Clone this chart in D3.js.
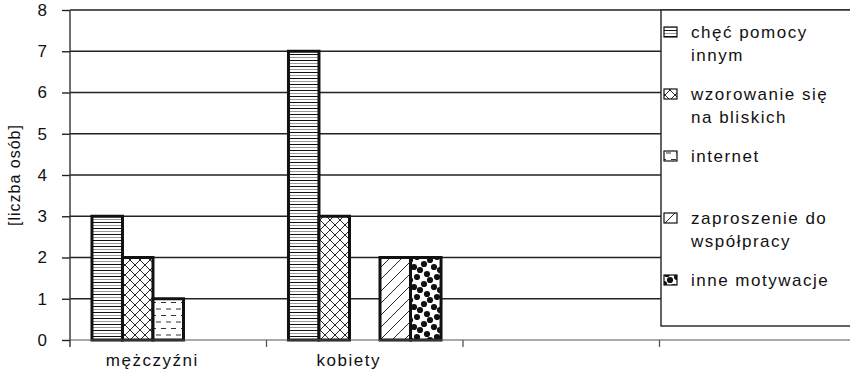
<!DOCTYPE html>
<html>
<head>
<meta charset="utf-8">
<title>Motywacje</title>
<script src="https://d3js.org/d3.v7.min.js"></script>
<style>
  body { margin: 0; padding: 0; background: #fff; }
  svg text { font-family: "Liberation Sans", Arial, sans-serif; fill: #111; }
</style>
</head>
<body>
<div id="chart"></div>
<script>
// categories (the last two bands are empty in the original chart)
var categories = ["mężczyźni", "kobiety", "", ""];
var seriesNames = ["chęć pomocy\ninnym", "wzorowanie się\nna bliskich", "internet", "zaproszenie do\nwspółpracy", "inne motywacje"];
var chec = [3, 7, 0, 0];
var wzorowanie = [2, 3, 0, 0];
var internet = [1, 0, 0, 0];
var zaproszenie = [0, 2, 0, 0];
var inne = [0, 2, 0, 0];
var yTicks = [0, 1, 2, 3, 4, 5, 6, 7, 8];
var yTitle = "[liczba osób]";

var series = [chec, wzorowanie, internet, zaproszenie, inne];
var patternIds = ["p-hlines", "p-cross", "p-dash", "p-diag", "p-dots"];

var width = 850, height = 373;
var margin = { top: 10, left: 70, bottom: 33 };

var svg = d3.select("#chart").append("svg")
    .attr("width", width)
    .attr("height", height);

// fill patterns
var defs = svg.append("defs");

var p1 = defs.append("pattern").attr("id", "p-hlines")
    .attr("patternUnits", "userSpaceOnUse").attr("width", 6).attr("height", 6);
p1.append("rect").attr("width", 6).attr("height", 6).attr("fill", "#fff");
p1.append("line").attr("x1", 0).attr("x2", 6).attr("y1", 0.5).attr("y2", 0.5).attr("stroke", "#111").attr("stroke-width", 1);
p1.append("line").attr("x1", 0).attr("x2", 6).attr("y1", 3.5).attr("y2", 3.5).attr("stroke", "#999").attr("stroke-width", 1);

var p2 = defs.append("pattern").attr("id", "p-cross")
    .attr("patternUnits", "userSpaceOnUse").attr("width", 10).attr("height", 10);
p2.append("rect").attr("width", 10).attr("height", 10).attr("fill", "#fff");
p2.append("path").attr("d", "M0,0L10,10M10,0L0,10").attr("stroke", "#111").attr("stroke-width", 0.9);

var p3 = defs.append("pattern").attr("id", "p-dash")
    .attr("patternUnits", "userSpaceOnUse").attr("width", 10).attr("height", 13);
p3.append("rect").attr("width", 10).attr("height", 13).attr("fill", "#fff");
p3.append("path").attr("d", "M1,3.5H6M6,10H10M0,10H1").attr("stroke", "#333").attr("stroke-width", 1);

var p4 = defs.append("pattern").attr("id", "p-diag")
    .attr("patternUnits", "userSpaceOnUse").attr("width", 12).attr("height", 12);
p4.append("rect").attr("width", 12).attr("height", 12).attr("fill", "#fff");
p4.append("path").attr("d", "M0,12L12,0M-3,3L3,-3M9,15L15,9").attr("stroke", "#111").attr("stroke-width", 0.9);

var p5 = defs.append("pattern").attr("id", "p-dots")
    .attr("patternUnits", "userSpaceOnUse").attr("width", 20).attr("height", 20);
p5.append("rect").attr("width", 20).attr("height", 20).attr("fill", "#fff");
[[4, 4], [14, 7], [7, 14], [17, 17], [10, 0], [10, 20], [0, 10], [20, 10]].forEach(function(c) {
    p5.append("circle").attr("cx", c[0]).attr("cy", c[1]).attr("r", 3.1).attr("fill", "#111");
});

// scales
var x = d3.scaleBand()
    .domain(d3.range(categories.length))
    .range([margin.left, 856]);

var xs = d3.scaleBand()
    .domain(d3.range(seriesNames.length))
    .range([0, x.bandwidth()])
    .paddingOuter(0.72);

var y = d3.scaleLinear()
    .domain([0, 8])
    .range([height - margin.bottom, margin.top]);

// gridlines
svg.append("g").selectAll("line")
    .data(yTicks.filter(function(d) { return d > 0; }))
    .enter().append("line")
    .attr("x1", margin.left).attr("x2", 856)
    .attr("y1", function(d) { return y(d); })
    .attr("y2", function(d) { return y(d); })
    .attr("stroke", "#222")
    .attr("stroke-width", 1.4);

// y axis
var yAxis = svg.append("g")
    .attr("transform", "translate(" + margin.left + ",0)")
    .call(d3.axisLeft(y).tickValues(yTicks).tickSize(8).tickPadding(15).tickFormat(d3.format("d")));
yAxis.select(".domain").remove();
yAxis.selectAll(".tick line").attr("stroke", "#222").attr("stroke-width", 1.4);
yAxis.selectAll(".tick text")
    .style("font-size", "17px")
    .style("font-family", "'Liberation Sans', Arial, sans-serif")
    .attr("fill", "#111");
svg.append("line")
    .attr("x1", margin.left).attr("x2", margin.left)
    .attr("y1", y(8)).attr("y2", y(0) + 7)
    .attr("stroke", "#333").attr("stroke-width", 1.4);

// y title
svg.append("text")
    .attr("transform", "translate(20," + ((y(0) + y(8)) / 2) + ") rotate(-90)")
    .attr("text-anchor", "middle")
    .style("font-size", "16px")
    .style("letter-spacing", "1px")
    .text(yTitle);

// bars
series.forEach(function(vals, si) {
    svg.append("g").selectAll("rect")
        .data(vals.map(function(v, ci) { return { v: v, c: ci }; }).filter(function(d) { return d.v > 0; }))
        .enter().append("rect")
        .attr("x", function(d) { return x(d.c) + xs(si); })
        .attr("y", function(d) { return y(d.v); })
        .attr("width", xs.bandwidth())
        .attr("height", function(d) { return y(0) - y(d.v); })
        .attr("fill", "url(#" + patternIds[si] + ")")
        .attr("stroke", "#111")
        .attr("stroke-width", 3);
});

// x axis
svg.append("line")
    .attr("x1", margin.left).attr("x2", 856)
    .attr("y1", y(0)).attr("y2", y(0))
    .attr("stroke", "#555").attr("stroke-width", 1.2);
svg.append("g").selectAll("line")
    .data(d3.range(1, categories.length))
    .enter().append("line")
    .attr("x1", function(d) { return x(d); })
    .attr("x2", function(d) { return x(d); })
    .attr("y1", y(0)).attr("y2", y(0) + 7)
    .attr("stroke", "#555").attr("stroke-width", 1.3);

svg.append("g").selectAll("text")
    .data(categories)
    .enter().append("text")
    .attr("x", function(d, i) { return x(i) + x.bandwidth() / 2 - 16; })
    .attr("y", y(0) + 26)
    .attr("text-anchor", "middle")
    .style("font-size", "17px")
    .style("letter-spacing", "1.5px")
    .text(function(d) { return d; });

// legend
var legend = svg.append("g");
legend.append("rect")
    .attr("x", 661).attr("y", y(8))
    .attr("width", 200).attr("height", 316)
    .attr("fill", "#fff")
    .attr("stroke", "#222").attr("stroke-width", 1.4);

seriesNames.forEach(function(name, i) {
    var base = 38 + i * 62;
    legend.append("rect")
        .attr("x", 664).attr("y", base - 11)
        .attr("width", 13).attr("height", 10)
        .attr("fill", "url(#" + patternIds[i] + ")")
        .attr("stroke", "#111").attr("stroke-width", 1.2);
    name.split("\n").forEach(function(line, j) {
        legend.append("text")
            .attr("x", 691)
            .attr("y", base + j * 23)
            .style("font-size", "17px")
            .style("letter-spacing", "1.5px")
            .text(line);
    });
});
</script>
</body>
</html>
